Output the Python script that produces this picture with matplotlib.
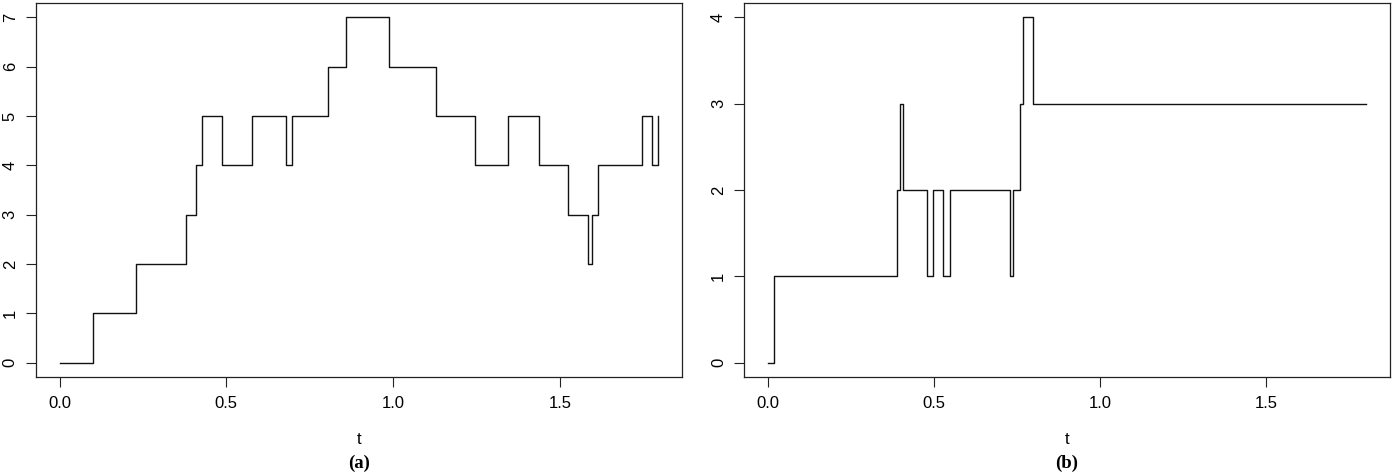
import numpy as np
import matplotlib
matplotlib.use('Agg')
import matplotlib.pyplot as plt

plt.rcParams['font.family'] = 'Liberation Sans'

# panel (a) jump times and counts
t_a = [0, 0.099, 0.230, 0.378, 0.408, 0.428, 0.488, 0.577, 0.680, 0.698, 0.806, 0.858,
       0.987, 1.128, 1.247, 1.346, 1.438, 1.526, 1.584, 1.596, 1.615, 1.748, 1.777, 1.794]
y_a = [0, 1, 2, 3, 4, 5, 4, 5, 4, 5, 6, 7, 6, 5, 4, 5, 4, 3, 2, 3, 4, 5, 4, 5]

# panel (b)
t_b = [0, 0.019, 0.388, 0.398, 0.408, 0.479, 0.498, 0.528, 0.547, 0.729, 0.739,
       0.760, 0.769, 0.797, 1.80]
y_b = [0, 1, 2, 3, 2, 1, 2, 1, 2, 1, 2, 3, 4, 3, 3]

x_ticks = [0.0, 0.5, 1.0, 1.5]
x_ticklabels = ['0.0', '0.5', '1.0', '1.5']
panel_labels = ['(a)', '(b)']

W = 13.95
H = 4.75
fig = plt.figure(figsize=(W, H), dpi=100)

ax_a = fig.add_axes([0.0256, 0.207, 0.4631, 0.786])
ax_b = fig.add_axes([0.5333, 0.207, 0.4631, 0.786])

def r_style(ax, t, y, ymax, label):
    ax.step(t, y, where='post', color='#111111', lw=1.0)
    # R default: 4% padding on each side
    span = t[-1] - t[0]
    ax.set_xlim(t[0] - 0.04 * span, t[-1] + 0.04 * span)
    ax.set_ylim(-0.04 * ymax, ymax * 1.04)
    ax.set_xticks(x_ticks)
    ax.set_xticklabels(x_ticklabels)
    ax.set_yticks(range(ymax + 1))
    ax.set_yticklabels([str(v) for v in range(ymax + 1)], rotation=90, va='center')
    ax.tick_params(direction='out', length=7, width=0.8, labelsize=12, color='#222222')
    ax.tick_params(axis='x', pad=7)
    ax.tick_params(axis='y', pad=6)
    for s in ax.spines.values():
        s.set_linewidth(0.9)
        s.set_color('#222222')
    ax.set_xlabel('t', fontsize=12, labelpad=15)
    ax.text(0.5, -0.232, label, transform=ax.transAxes, ha='center', va='center',
            fontsize=13.5, fontweight='bold', family='Liberation Serif')

r_style(ax_a, t_a, y_a, 7, panel_labels[0])
r_style(ax_b, t_b, y_b, 4, panel_labels[1])

plt.savefig('out.png', dpi=100)
plt.close()
